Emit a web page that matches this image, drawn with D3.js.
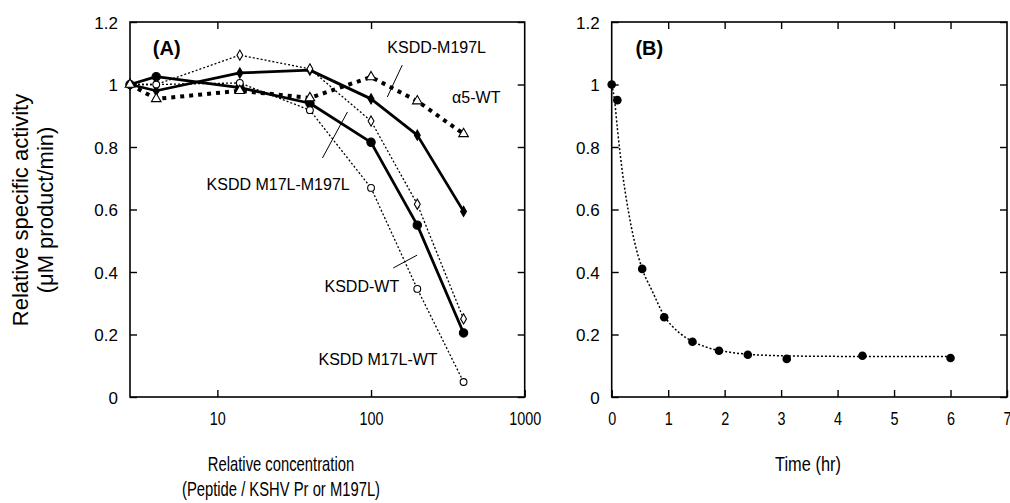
<!DOCTYPE html>
<html>
<head>
<meta charset="utf-8">
<script src="https://cdn.jsdelivr.net/npm/d3@7"></script>
<style>
  body { margin: 0; background: #fff; }
  text { font-family: "Liberation Sans", Arial, Helvetica, sans-serif; fill: #000; }
</style>
</head>
<body>
<svg id="chart" width="1010" height="503"></svg>
<script>
// ---- panel A : activity vs relative concentration (log x) ----
const concA = [2.7, 4, 14, 40, 100, 200, 400];
const solidDiamond = [1.0, 0.98, 1.037, 1.046, 0.954, 0.838, 0.594];   // KSDD-M197L
const solidCircle  = [1.0, 1.025, 0.99, 0.94, 0.815, 0.55, 0.205];     // KSDD M17L-M197L
const dotDiamond   = [1.0, 1.0, 1.094, 1.05, 0.883, 0.617, 0.25];
const dotCircle    = [1.0, 1.0, 1.005, 0.918, 0.669, 0.346, 0.048];
const dashTriangle = [1.0, 0.954, 0.98, 0.957, 1.024, 0.947, 0.842];   // a5-WT

const xTicksA = [10, 100, 1000];
const yTicks = [0, 0.2, 0.4, 0.6, 0.8, 1, 1.2];

// labels in panel A (data units)
const labelTextA = ["KSDD-M197L", "\u03b15-WT", "KSDD M17L-M197L", "KSDD-WT", "KSDD M17L-WT"];
const labelXA = [127.6, 337, 8.5, 49.8, 45.5];
const labelYA = [1.10, 0.941, 0.662, 0.336, 0.102];
// pointer strokes (data units)
const pointerX1 = [127.6, 48.3, 139.6];
const pointerY1 = [0.96, 0.765, 0.413];
const pointerX2 = [159.6, 70.2, 199.5];
const pointerY2 = [1.062, 0.912, 0.454];

// ---- panel B : activity vs time ----
const timeB = [0, 0.1, 0.54, 0.93, 1.43, 1.9, 2.41, 3.1, 4.44, 6.0];
const activityB = [1.0, 0.95, 0.41, 0.255, 0.177, 0.148, 0.135, 0.122, 0.132, 0.125];
// fitted decay curve
const fitTime  = [0, 0.05, 0.1, 0.2, 0.3, 0.4, 0.54, 0.71, 0.93, 1.2, 1.43, 1.7, 2.0, 2.4, 3.0, 4.0, 6.0];
const fitValue = [1.0, 0.95, 0.86, 0.705, 0.59, 0.50, 0.41, 0.342, 0.26, 0.205, 0.178, 0.158, 0.146, 0.137, 0.132, 0.13, 0.13];
const xTicksB = [0, 1, 2, 3, 4, 5, 6, 7];

const svg = d3.select("#chart");
const plotTop = 22, plotBottom = 397;
const y = d3.scaleLinear().domain([0, 1.2]).range([plotBottom, plotTop]);
const xA = d3.scaleLog().domain([2.7, 1000]).range([130, 524.7]);
const xB = d3.scaleLinear().domain([0, 7]).range([611.7, 1007]);

function frame(x0, x1, xs, xTicks, showTop) {
    const g = svg.append("g");
    const bot = g.append("g").attr("transform", `translate(0,${plotBottom})`)
        .call(d3.axisBottom(xs).tickValues(xTicks).tickFormat(d3.format("d")).tickSize(-7).tickPadding(15));
    g.append("g").attr("transform", `translate(0,${plotTop})`)
        .call(d3.axisTop(xs).tickValues(showTop).tickFormat("").tickSize(-7));
    const lf = g.append("g").attr("transform", `translate(${x0},0)`)
        .call(d3.axisLeft(y).tickValues(yTicks).tickFormat(d3.format("~g")).tickSize(-7).tickPadding(12));
    g.append("g").attr("transform", `translate(${x1},0)`)
        .call(d3.axisRight(y).tickValues(yTicks).tickFormat("").tickSize(-7));
    g.selectAll(".domain").remove();
    g.selectAll(".tick line").attr("stroke", "#000").attr("stroke-width", 1.4);
    lf.selectAll("text").style("font-size", "17px").attr("dy", "0.36em");
    bot.selectAll("text").style("font-size", "18px")
        .attr("transform", "scale(0.8,1)");
    g.append("rect").attr("x", x0).attr("y", plotTop).attr("width", x1 - x0).attr("height", plotBottom - plotTop)
        .attr("fill", "none").attr("stroke", "#000").attr("stroke-width", 1.6);
}

frame(130, 524.7, xA, xTicksA, [10, 100]);
frame(611.7, 1007, xB, xTicksB, xTicksB.slice(1, 7));

// ---- series A ----
const lineA = d3.line().x(d => xA(d[0])).y(d => y(d[1]));
const seriesA = [
    { vals: solidCircle,  width: 2.8, dash: null,  marker: "circleFilled" },
    { vals: solidDiamond, width: 2.8, dash: null,  marker: "diamondFilled" },
    { vals: dotDiamond,   width: 1.3, dash: "2,2", marker: "diamondOpen" },
    { vals: dotCircle,    width: 1.3, dash: "2,2", marker: "circleOpen" },
    { vals: dashTriangle, width: 4,   dash: "4,5", marker: "triangleOpen" }
];
const symbols = {
    circleFilled:  { type: d3.symbolCircle,   size: 55, fill: "#000" },
    diamondFilled: { type: d3.symbolDiamond,  size: 30, fill: "#000" },
    diamondOpen:   { type: d3.symbolDiamond,  size: 30, fill: "#fff" },
    circleOpen:    { type: d3.symbolCircle,   size: 36, fill: "#fff" },
    triangleOpen:  { type: d3.symbolTriangle, size: 40, fill: "#fff" }
};
seriesA.forEach(s => {
    const pts = concA.map((c, i) => [c, s.vals[i]]);
    svg.append("path").datum(pts).attr("d", lineA)
        .attr("fill", "none").attr("stroke", "#000")
        .attr("stroke-width", s.width).attr("stroke-dasharray", s.dash)
        .attr("stroke-linejoin", "round");
    const sym = symbols[s.marker];
    svg.selectAll(null).data(pts).enter().append("path")
        .attr("transform", d => `translate(${xA(d[0])},${y(d[1])})`)
        .attr("d", d3.symbol().type(sym.type).size(sym.size))
        .attr("fill", sym.fill).attr("stroke", "#000").attr("stroke-width", 1.1);
});

// labels + pointers
svg.selectAll(null).data(labelTextA).enter().append("text")
    .attr("x", (d, i) => xA(labelXA[i])).attr("y", (d, i) => y(labelYA[i]))
    .style("font-size", "16px").text(d => d);
svg.selectAll(null).data(pointerX1).enter().append("line")
    .attr("x1", (d, i) => xA(pointerX1[i])).attr("y1", (d, i) => y(pointerY1[i]))
    .attr("x2", (d, i) => xA(pointerX2[i])).attr("y2", (d, i) => y(pointerY2[i]))
    .attr("stroke", "#000").attr("stroke-width", 1);

svg.append("text").attr("x", xA(3.8)).attr("y", y(1.094))
    .style("font-size", "20px").style("font-weight", "bold").text("(A)");
svg.append("text").attr("x", xB(0.42)).attr("y", y(1.094))
    .style("font-size", "20px").style("font-weight", "bold").text("(B)");

// ---- series B ----
const lineB = d3.line().x(d => xB(d[0])).y(d => y(d[1])).curve(d3.curveMonotoneX);
svg.append("path").datum(fitTime.map((t, i) => [t, fitValue[i]])).attr("d", lineB)
    .attr("fill", "none").attr("stroke", "#000").attr("stroke-width", 1.5).attr("stroke-dasharray", "2,2");
svg.selectAll(null).data(timeB).enter().append("circle")
    .attr("cx", d => xB(d)).attr("cy", (d, i) => y(activityB[i])).attr("r", 4.3).attr("fill", "#000");

// ---- axis titles ----
svg.append("text").attr("transform", "translate(28,210) rotate(-90)")
    .attr("text-anchor", "middle").style("font-size", "22px").text("Relative specific activity");
svg.append("text").attr("transform", "translate(53,210) rotate(-90)")
    .attr("text-anchor", "middle").style("font-size", "22px").text("(\u03bcM product/min)");

svg.append("text").attr("transform", "translate(281,471) scale(0.74,1)")
    .attr("text-anchor", "middle").style("font-size", "20px").text("Relative concentration");
svg.append("text").attr("transform", "translate(281,496) scale(0.74,1)")
    .attr("text-anchor", "middle").style("font-size", "20px").text("(Peptide / KSHV Pr or M197L)");
svg.append("text").attr("transform", "translate(808,471) scale(0.82,1)")
    .attr("text-anchor", "middle").style("font-size", "20px").text("Time (hr)");
</script>
</body>
</html>
